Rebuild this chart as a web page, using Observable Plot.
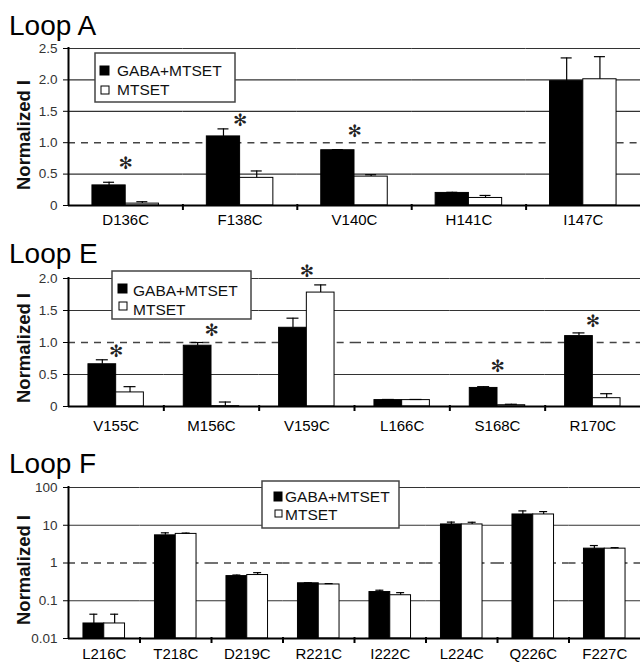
<!DOCTYPE html>
<html><head><meta charset="utf-8">
<script src="https://cdn.jsdelivr.net/npm/d3@7"></script>
<script src="https://cdn.jsdelivr.net/npm/@observablehq/plot@0.6"></script>
<style>
body{margin:0;background:#fff;}
#wrap{position:relative;width:640px;height:663px;overflow:hidden;font-family:"Liberation Sans",Arial,sans-serif;}
#wrap > svg{position:absolute;left:0;}
[aria-label^="y-axis"] text{font-size:13.5px;fill:#333;}
</style></head><body><div id="wrap"></div>
<script>
// ---- data ----
const series = ["GABA+MTSET", "MTSET"];

const loopACategories = ["D136C", "F138C", "V140C", "H141C", "I147C"];
const loopAGaba      = [0.32, 1.10, 0.88, 0.20, 1.98];
const loopAGabaErr   = [0.05, 0.12, 0.01, 0.01, 0.37];
const loopAMtset     = [0.03, 0.44, 0.46, 0.12, 2.01];
const loopAMtsetErr  = [0.03, 0.11, 0.03, 0.04, 0.36];
const loopAStars     = [0.67, 1.35, 1.18, null, null];
const loopATicks     = [0, 0.5, 1.0, 1.5, 2.0, 2.5];

const loopECategories = ["V155C", "M156C", "V159C", "L166C", "S168C", "R170C"];
const loopEGaba      = [0.66, 0.95, 1.23, 0.10, 0.29, 1.10];
const loopEGabaErr   = [0.07, 0.05, 0.15, 0.01, 0.02, 0.05];
const loopEMtset     = [0.22, 0.005, 1.78, 0.10, 0.02, 0.13];
const loopEMtsetErr  = [0.09, 0.065, 0.12, 0.01, 0.015, 0.07];
const loopEStars     = [0.86, 1.19, 2.11, null, 0.62, 1.32];
const loopETicks     = [0, 0.5, 1.0, 1.5, 2.0];

const loopFCategories = ["L216C", "T218C", "D219C", "R221C", "I222C", "L224C", "Q226C", "F227C"];
const loopFGaba      = [0.025, 5.4, 0.45, 0.29, 0.17, 10.5, 19.3, 2.4];
const loopFGabaErr   = [0.019, 0.9, 0.03, 0.01, 0.02, 1.6, 4.7, 0.5];
const loopFMtset     = [0.025, 5.9, 0.48, 0.27, 0.14, 10.5, 19.3, 2.4];
const loopFMtsetErr  = [0.019, 0.3, 0.075, 0.015, 0.024, 1.5, 3.7, 0.15];
const loopFStars     = [null, null, null, null, null, null, null, null];
const loopFTicks     = [0.01, 0.1, 1, 10, 100];

const FONT = '"Liberation Sans", Arial, sans-serif';
const wrap = document.getElementById("wrap");
const MARGIN_LEFT = 68, WIDTH = 640;

function makePanel(cfg) {
  const {cats, gaba, gabaErr, mtset, mtsetErr, stars, ticks, yType, base, top,
         solidGrid, dashed, height, marginTop, marginBottom, tickPadding, capWidth, fmt} = cfg;
  const rows = [];
  cats.forEach((c, i) => {
    rows.push({cat: c, series: series[0], value: gaba[i], err: gaba[i] + gabaErr[i], star: stars[i]});
    rows.push({cat: c, series: series[1], value: mtset[i], err: mtset[i] + mtsetErr[i], star: null});
  });
  const bw = (WIDTH - MARGIN_LEFT) / cats.length;
  const po = 0.72;
  const step = bw / (2 + 2 * po);
  const capInset = (step - capWidth) / 2;
  const isG = d => d.series === series[0];
  return Plot.plot({
    width: WIDTH, height, marginLeft: MARGIN_LEFT, marginRight: 0, marginTop, marginBottom,
    style: {fontFamily: FONT, fontSize: "15px", color: "#000", background: "transparent", overflow: "visible"},
    facet: {data: rows, x: "cat"},
    fx: {domain: cats, padding: 0, round: false, axis: "bottom", label: null, tickSize: 0, tickPadding},
    x: {domain: series, paddingInner: 0, paddingOuter: po, round: false, axis: null},
    y: {type: yType, domain: [base, top], ticks, tickFormat: fmt, tickSize: 5, tickPadding: 6, label: null, axis: "left"},
    marks: [
      Plot.ruleY(solidGrid, {stroke: "#333", strokeWidth: 1.2}),
      Plot.ruleY([dashed], {stroke: "#444", strokeWidth: 1.6, strokeDasharray: "7,6"}),
      Plot.barY(rows, {filter: isG, x: "series", y1: base, y2: "value", fill: "#000", stroke: "#000", strokeWidth: 1}),
      Plot.barY(rows, {filter: d => !isG(d), x: "series", y1: base, y2: "value", fill: "#fff", stroke: "#000", strokeWidth: 1}),
      Plot.ruleX(rows, {x: "series", y1: "value", y2: "err", stroke: "#000", strokeWidth: 1.2}),
      Plot.tickY(rows, {x: "series", y: "err", stroke: "#000", strokeWidth: 1.2, insetLeft: capInset, insetRight: capInset}),
      Plot.ruleY([base], {stroke: "#000", strokeWidth: 2}),
      Plot.text(rows, {filter: d => d.star != null, y: "star", text: () => "\u273B", fontSize: 17, fill: "#222", fontFamily: "DejaVu Sans", lineAnchor: "middle"})
    ]
  });
}

const linFmt = d => d === 0 ? "0" : d.toFixed(1);

const panels = [
  {top: 40, cfg: {cats: loopACategories, gaba: loopAGaba, gabaErr: loopAGabaErr, mtset: loopAMtset, mtsetErr: loopAMtsetErr,
    stars: loopAStars, ticks: loopATicks, yType: "linear", base: 0, top: 2.5, solidGrid: [0.5, 1.5, 2.0, 2.5], dashed: 1.0,
    height: 195, marginTop: 8, marginBottom: 30, tickPadding: 9, capWidth: 11, fmt: linFmt}},
  {top: 268, cfg: {cats: loopECategories, gaba: loopEGaba, gabaErr: loopEGabaErr, mtset: loopEMtset, mtsetErr: loopEMtsetErr,
    stars: loopEStars, ticks: loopETicks, yType: "linear", base: 0, top: 2.0, solidGrid: [0.5, 1.5, 2.0], dashed: 1.0,
    height: 165, marginTop: 10, marginBottom: 27, tickPadding: 14, capWidth: 12, fmt: linFmt}},
  {top: 478, cfg: {cats: loopFCategories, gaba: loopFGaba, gabaErr: loopFGabaErr, mtset: loopFMtset, mtsetErr: loopFMtsetErr,
    stars: loopFStars, ticks: loopFTicks, yType: "log", base: 0.01, top: 100, solidGrid: [0.1, 10, 100], dashed: 1,
    height: 185, marginTop: 9, marginBottom: 25, tickPadding: 10, capWidth: 8, fmt: d => String(d)}}
];

for (const p of panels) {
  const svg = makePanel(p.cfg);
  svg.style.position = "absolute";
  svg.style.top = p.top + "px";
  svg.style.left = "0px";
  wrap.appendChild(svg);
}

// ---- overlay: titles, axis labels, legends, axis lines ----
const titles = [{text: "Loop A", y: 35}, {text: "Loop E", y: 263}, {text: "Loop F", y: 473}];
const yLabels = [{y: 190}, {y: 403}, {y: 625}];
const legends = [
  {box: [95, 53, 235, 102], sq: [[100, 66, 9, 9], [101, 86, 8, 8]], tx: 117, base: [76, 95]},
  {box: [112, 271, 251, 319], sq: [[118, 284, 9, 9], [119, 302, 8, 8]], tx: 133, base: [296, 315]},
  {box: [262, 481, 399, 528], sq: [[274, 492, 8, 9], [275, 510, 7, 7]], tx: 285, base: [502, 520]}
];

const ov = d3.create("svg").attr("width", 640).attr("height", 663)
  .style("position", "absolute").style("top", "0px").style("left", "0px")
  .style("font-family", FONT);

// y-axis line and category-boundary ticks, from the same band/linear/log layout as each panel
for (const p of panels) {
  const c = p.cfg;
  const x = d3.scaleBand().domain(c.cats).range([MARGIN_LEFT, WIDTH]).padding(0);
  const y = (c.yType === "log" ? d3.scaleLog() : d3.scaleLinear())
    .domain([c.base, c.top]).range([p.top + c.height - c.marginBottom, p.top + c.marginTop]);
  const g = ov.append("g").attr("stroke", "#000").attr("stroke-width", 2);
  g.append("line").attr("x1", x(c.cats[0]) + 0.5).attr("x2", x(c.cats[0]) + 0.5)
    .attr("y1", y(c.base) + 1).attr("y2", y(c.top) - 1);
  g.selectAll("line.b").data(c.cats.slice(1)).join("line")
    .attr("x1", d => x(d) + 0.5).attr("x2", d => x(d) + 0.5)
    .attr("y1", y(c.base) - 1).attr("y2", y(c.base) + 5);
}

ov.selectAll("text.title").data(titles).join("text")
  .attr("x", 9).attr("y", d => d.y).attr("font-size", 28).attr("fill", "#000").text(d => d.text);

ov.selectAll("text.ylab").data(yLabels).join("text")
  .attr("transform", d => `translate(30,${d.y}) rotate(-90)`)
  .attr("font-size", 18.5).attr("font-weight", "bold").attr("fill", "#111").text("Normalized I");

for (const L of legends) {
  const [x1, y1, x2, y2] = L.box;
  ov.append("rect").attr("x", x1).attr("y", y1).attr("width", x2 - x1).attr("height", y2 - y1)
    .attr("fill", "#fff").attr("stroke", "#444").attr("stroke-width", 1.5);
  L.sq.forEach((s, i) => {
    ov.append("rect").attr("x", s[0]).attr("y", s[1]).attr("width", s[2]).attr("height", s[3])
      .attr("fill", i === 0 ? "#000" : "#fff").attr("stroke", "#000").attr("stroke-width", 1);
    ov.append("text").attr("x", L.tx).attr("y", L.base[i]).attr("font-size", 15.5).attr("fill", "#111").text(series[i]);
  });
}

wrap.appendChild(ov.node());
</script>
</body></html>
